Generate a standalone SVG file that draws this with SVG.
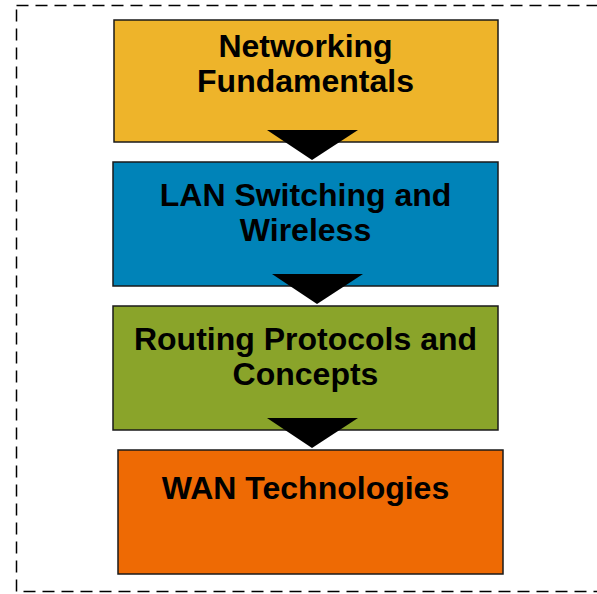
<svg xmlns="http://www.w3.org/2000/svg" width="597" height="594" viewBox="0 0 597 594">
<style>
.box{stroke:#1a1a1a;stroke-width:1.5}
.lbl{font-family:"Liberation Sans",Arial,sans-serif;font-weight:bold;font-size:32px;fill:#000;text-anchor:middle}
.arr{fill:#000}
</style>
<rect id="frame" x="16.5" y="5.5" width="600" height="586" fill="none" stroke="#000" stroke-width="1.5" stroke-dasharray="12,7"/>
<g id="n1"><rect class="box" x="114" y="20" width="384" height="122" fill="#EEB42A"/>
<text class="lbl" x="305.5" y="57">Networking</text><text class="lbl" x="305.5" y="92">Fundamentals</text></g>
<g id="n2"><rect class="box" x="113" y="162" width="385" height="124" fill="#0083B8"/>
<text class="lbl" x="305.5" y="206">LAN Switching and</text><text class="lbl" x="305.5" y="241">Wireless</text></g>
<g id="n3"><rect class="box" x="113" y="306" width="385" height="124" fill="#8AA42A"/>
<text class="lbl" x="305.5" y="350">Routing Protocols and</text><text class="lbl" x="305.5" y="385">Concepts</text></g>
<g id="n4"><rect class="box" x="118" y="450" width="385" height="124" fill="#EE6A04"/>
<text class="lbl" x="305.5" y="499">WAN Technologies</text></g>
<g id="connectors">
<polygon class="arr" points="267,130 358,130 312,160"/>
<polygon class="arr" points="272,274 363,274 317,304"/>
<polygon class="arr" points="267,418 358,418 312,448"/>
</g>
</svg>
